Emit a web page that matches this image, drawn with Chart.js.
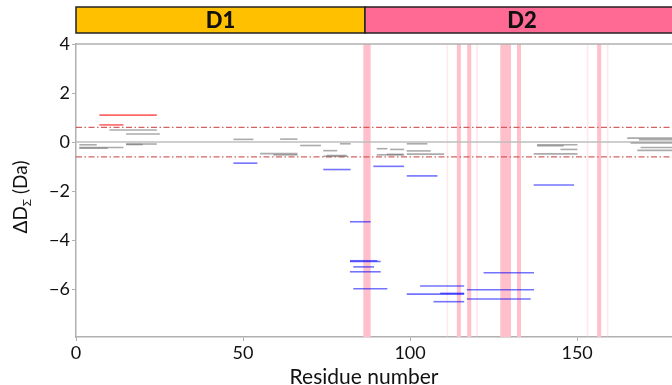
<!DOCTYPE html>
<html>
<head>
<meta charset="utf-8">
<script src="https://cdn.jsdelivr.net/npm/chart.js@4"></script>
<style>
  html, body { margin: 0; padding: 0; background: #fff; }
  #wrap { width: 672px; height: 385px; }
</style>
</head>
<body>
<div id="wrap"><canvas id="c"></canvas></div>
<script>
// ---------------- data ----------------
const xTicks = [0, 50, 100, 150];
const yTicks = [-6, -4, -2, 0, 2, 4];

// peptides with no significant change (grey)
const grayStart = [1, 1, 1, 10, 15, 15, 15, 47.1, 61.1, 67.1, 79, 74, 55.1, 59.1, 74, 75, 99, 90, 94, 99, 90, 93, 99, 138, 138, 145, 137, 165, 168.5, 166, 169, 168];
const grayEnd   = [6.2, 14.2, 9.5, 24.2, 25.1, 24.2, 20, 53.1, 66.3, 73.3, 82.2, 78.2, 66.3, 66.3, 81.2, 81, 105.2, 93.2, 98.2, 106.2, 98.2, 98, 110.2, 150.1, 146, 150.1, 150.1, 180, 180, 180, 180, 180];
const grayValue = [-0.11, -0.22, -0.25, 0.49, 0.33, -0.08, -0.1, 0.11, 0.12, -0.14, -0.07, -0.35, -0.47, -0.52, -0.58, -0.55, -0.07, -0.27, -0.30, -0.36, -0.52, -0.5, -0.49, -0.11, -0.15, -0.30, -0.48, 0.16, 0.1, -0.04, -0.22, -0.34];

// protected peptides (blue)
const blueStart = [47.1, 74, 89, 99, 137, 82, 82, 82, 83, 82, 83, 103, 99, 109, 107, 122, 117, 117];
const blueEnd   = [54.3, 82.2, 98.2, 108.2, 149.1, 88.2, 90.2, 91.2, 89.2, 91.2, 93.2, 116.2, 116.2, 116.2, 116.2, 137.1, 137.1, 136.1];
const blueValue = [-0.86, -1.12, -0.99, -1.38, -1.75, -3.25, -4.84, -4.87, -5.09, -5.29, -5.98, -5.87, -6.20, -6.17, -6.51, -5.33, -6.02, -6.40];

// deprotected peptides (red)
const redStart = [7, 7];
const redEnd   = [24.2, 14.2];
const redValue = [1.10, 0.70];

// significance threshold
const thresholds = [0.6, -0.6];

// highlighted residues
const bandStart = [86, 110.9, 114, 117.1, 119.8, 127, 132, 152.9, 156, 158.9];
const bandEnd   = [88.2, 111.4, 115.2, 118.3, 120.3, 130.2, 133.2, 153.4, 157.2, 159.4];
const bandFaint = [false, true, false, false, true, false, false, true, false, true];

// domains
const domainNames = ['D1', 'D2'];
const domainStart = [0, 86.5];
const domainEnd   = [86.5, 180.5];
const domainColors = ['#FFC000', '#FF6A95'];

const X_MAX = 178.4;
const FONT = 'Lato, "Open Sans", sans-serif';

// ---------------- datasets ----------------
function segments(starts, ends, values, color) {
    return starts.map((s, i) => ({
        data: [{x: s, y: values[i]}, {x: ends[i], y: values[i]}],
        borderColor: color,
        borderWidth: 1.6,
        pointRadius: 0,
        order: 1
    }));
}

const datasets = [];
datasets.push({
    data: [{x: 0, y: 0}, {x: X_MAX, y: 0}],
    borderColor: 'rgb(190,190,190)', borderWidth: 1.5, pointRadius: 0, order: 3
});
thresholds.forEach(t => datasets.push({
    data: [{x: 0, y: t}, {x: X_MAX, y: t}],
    borderColor: 'rgba(205,70,70,0.85)', borderWidth: 1.3, borderDash: [6, 2.5, 1.5, 2.5],
    pointRadius: 0, order: 2
}));
datasets.push(...segments(grayStart, grayEnd, grayValue, 'rgba(115,115,115,0.6)'));
datasets.push(...segments(blueStart, blueEnd, blueValue, 'rgba(0,0,255,0.55)'));
datasets.push(...segments(redStart, redEnd, redValue, 'rgba(255,0,0,0.6)'));

// ---------------- plugins ----------------
const bandsPlugin = {
    id: 'bands',
    beforeDatasetsDraw(chart) {
        const {ctx, chartArea: a, scales: {x}} = chart;
        ctx.save();
        ctx.beginPath();
        ctx.rect(a.left, a.top, a.right - a.left, a.bottom - a.top);
        ctx.clip();
        bandStart.forEach((s, i) => {
            const x0 = x.getPixelForValue(s), x1 = x.getPixelForValue(bandEnd[i]);
            ctx.fillStyle = bandFaint[i] ? 'rgba(255,192,203,0.35)' : 'rgb(255,192,203)';
            ctx.fillRect(x0, a.top, x1 - x0, a.bottom - a.top);
        });
        ctx.restore();
    }
};

const framePlugin = {
    id: 'frame',
    afterDraw(chart) {
        const {ctx, chartArea: a, scales: {x}} = chart;
        ctx.save();
        // top spine
        ctx.strokeStyle = '#b0b0b0';
        ctx.lineWidth = 1.5;
        ctx.beginPath();
        ctx.moveTo(a.left, a.top);
        ctx.lineTo(a.right, a.top);
        ctx.stroke();

        // domain bar
        const top = 7, h = 26;
        domainNames.forEach((name, i) => {
            const x0 = x.getPixelForValue(domainStart[i]), x1 = x.getPixelForValue(domainEnd[i]);
            ctx.fillStyle = domainColors[i];
            ctx.fillRect(x0, top, x1 - x0, h);
            ctx.strokeStyle = '#222';
            ctx.lineWidth = 1.5;
            ctx.strokeRect(x0, top, x1 - x0, h);
            ctx.fillStyle = '#111';
            ctx.font = '900 22px ' + FONT;
            ctx.textAlign = 'center';
            ctx.textBaseline = 'middle';
            ctx.fillText(name, (x0 + x1) / 2, top + h / 2 + 1);
        });

        // x title
        ctx.fillStyle = '#111';
        ctx.font = '21px ' + FONT;
        ctx.textAlign = 'center';
        ctx.textBaseline = 'middle';
        ctx.fillText('Residue number', 364, 377);

        // y title with subscript
        ctx.translate(20, 197);
        ctx.rotate(-Math.PI / 2);
        const big = '19px ' + FONT, small = '12px ' + FONT;
        ctx.font = big;
        const w1 = ctx.measureText('\u0394D').width;
        const w3 = ctx.measureText(' (Da)').width;
        ctx.font = small;
        const w2 = ctx.measureText('\u03A3').width;
        let px = -(w1 + w2 + w3) / 2;
        ctx.textAlign = 'left';
        ctx.textBaseline = 'alphabetic';
        ctx.font = big;
        ctx.fillText('\u0394D', px, 7);
        px += w1;
        ctx.font = small;
        ctx.fillText('\u03A3', px, 11);
        px += w2;
        ctx.font = big;
        ctx.fillText(' (Da)', px, 7);
        ctx.restore();
    }
};

// ---------------- chart ----------------
new Chart(document.getElementById('c'), {
    type: 'line',
    data: { datasets: datasets },
    options: {
        animation: false,
        responsive: true,
        maintainAspectRatio: false,
        layout: { padding: { top: 44, right: 0, left: 0, bottom: 0 } },
        plugins: { legend: { display: false }, tooltip: { enabled: false } },
        scales: {
            x: {
                type: 'linear',
                min: 0,
                max: X_MAX,
                afterBuildTicks: s => { s.ticks = xTicks.map(v => ({value: v})); },
                afterFit: s => { s.height = 48; },
                grid: { drawOnChartArea: false, drawTicks: true, tickLength: 4, color: '#b0b0b0' },
                border: { display: true, color: '#b0b0b0', width: 1.5 },
                ticks: { color: '#111', font: { family: FONT, size: 18 }, padding: 1, maxRotation: 0 }
            },
            y: {
                type: 'linear',
                min: -7.95,
                max: 4,
                afterBuildTicks: s => { s.ticks = yTicks.map(v => ({value: v})); },
                afterFit: s => { s.width = 76; },
                grid: { drawOnChartArea: false, drawTicks: true, tickLength: 4, color: '#b0b0b0' },
                border: { display: true, color: '#b0b0b0', width: 1.5 },
                ticks: {
                    color: '#111', font: { family: FONT, size: 18 }, padding: 2,
                    callback: v => (v < 0 ? '\u2212' + Math.abs(v) : String(v))
                }
            }
        }
    },
    plugins: [bandsPlugin, framePlugin]
});
</script>
</body>
</html>
